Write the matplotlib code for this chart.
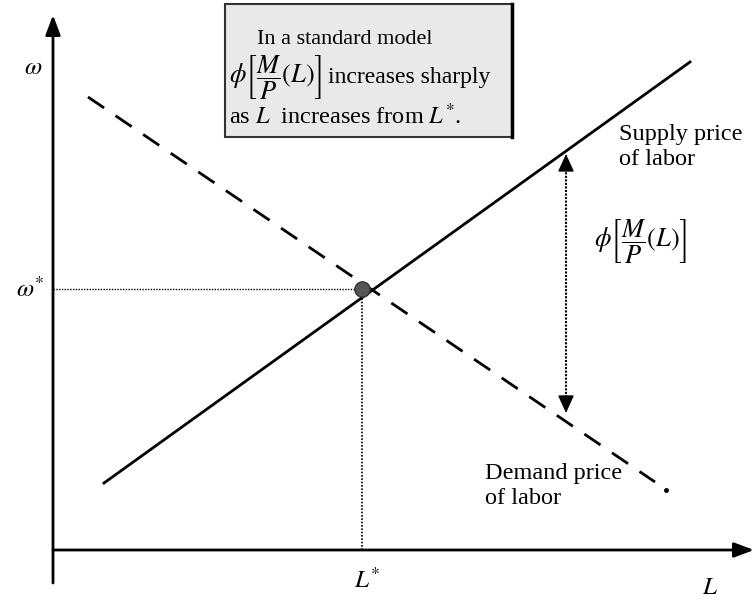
import matplotlib
matplotlib.use("Agg")
import matplotlib.pyplot as plt
from matplotlib.patches import Rectangle

plt.rcParams['font.family'] = ['Liberation Serif', 'DejaVu Serif']
plt.rcParams['mathtext.fontset'] = 'stix'

# Conceptual data (origin at axes intersection)
eq_L, eq_w = 309, 261
supply_L = [51, 637]
supply_w = [67, 488]
demand_L = [35, 602]
demand_w = [453, 68]
demand_dot = (613, 60)
gap_L = 513
gap_w = [396, 137]

fig = plt.figure(figsize=(7.55, 6.03), dpi=100)
ax = fig.add_axes([0, 0, 1, 1])
ax.set_xlim(-53, 702)
ax.set_ylim(-53, 550)
ax.axis('off')

# axes with arrows
ax.annotate('', xy=(701, 0), xytext=(0, 0), annotation_clip=False,
            arrowprops=dict(arrowstyle='-|>,head_length=1.2,head_width=0.45', lw=2, color='black', shrinkA=0, shrinkB=0))
ax.annotate('', xy=(0, 535), xytext=(0, -33), annotation_clip=False,
            arrowprops=dict(arrowstyle='-|>,head_length=1.2,head_width=0.45', lw=2, color='black', shrinkA=0, shrinkB=0))

# supply
ax.plot(supply_L, supply_w, color='black', lw=2)
# demand dashed
ax.plot(demand_L, demand_w, color='black', lw=2, dashes=(7, 5))
ax.plot([demand_dot[0]], [demand_dot[1]], 'o', color='black', ms=2.5)

# dotted guides
ax.plot([0, eq_L], [eq_w, eq_w], color='black', lw=1, ls=(0, (1, 1)))
ax.plot([eq_L, eq_L], [0, eq_w], color='black', lw=1.2, ls=(0, (1, 1)))
ax.plot([eq_L], [eq_w], 'o', color='#555555', mec='#333333', ms=11, zorder=5)

# gap arrow: dotted shaft plus solid heads
ax.plot([gap_L, gap_L], [gap_w[1] + 12, gap_w[0] - 12], color='black', lw=1.5, ls=(0, (1, 0.7)))
ax.annotate('', xy=(gap_L, gap_w[0]), xytext=(gap_L, gap_w[0] - 16),
            arrowprops=dict(arrowstyle='-|>,head_length=1.1,head_width=0.5', lw=1, color='black', shrinkA=0, shrinkB=0))
ax.annotate('', xy=(gap_L, gap_w[1]), xytext=(gap_L, gap_w[1] + 16),
            arrowprops=dict(arrowstyle='-|>,head_length=1.1,head_width=0.5', lw=1, color='black', shrinkA=0, shrinkB=0))

# box
ax.add_patch(Rectangle((172, 413), 287, 133, facecolor='#e9e9e9', edgecolor='#333333', lw=1.5, zorder=3))
ax.plot([459, 459], [413, 546], color='black', lw=2.5, zorder=4)
ax.text(204, 511, 'In a standard model', fontsize=16, zorder=6, va='center')
ax.text(176, 472, r'$\phi\left[\dfrac{M}{P}(L)\right]$', fontsize=19, zorder=6, va='center')
ax.text(275, 472, 'increases sharply', fontsize=17, zorder=6, va='center')
ax.text(176, 434, r'as $L$  increases from $L^{*}$.', fontsize=17.5, zorder=6, va='center')

# labels
ax.text(-20, 482, r'$\omega$', fontsize=18, ha='center', va='center')
ax.text(-23, 261, r'$\omega^{*}$', fontsize=18, ha='center', va='center')
ax.text(314, -30, r'$L^{*}$', fontsize=18, ha='center', va='center')
ax.text(657, -38, r'$L$', fontsize=18, ha='center', va='center')

ax.text(566, 403, 'Supply price\nof labor', fontsize=17.5, va='center', linespacing=1.25)
ax.text(432, 64, 'Demand price\nof labor', fontsize=17.5, va='center', linespacing=1.25)
ax.text(541, 308, r'$\phi\left[\dfrac{M}{P}(L)\right]$', fontsize=19, va='center')

fig.savefig('out.png', dpi=100)
